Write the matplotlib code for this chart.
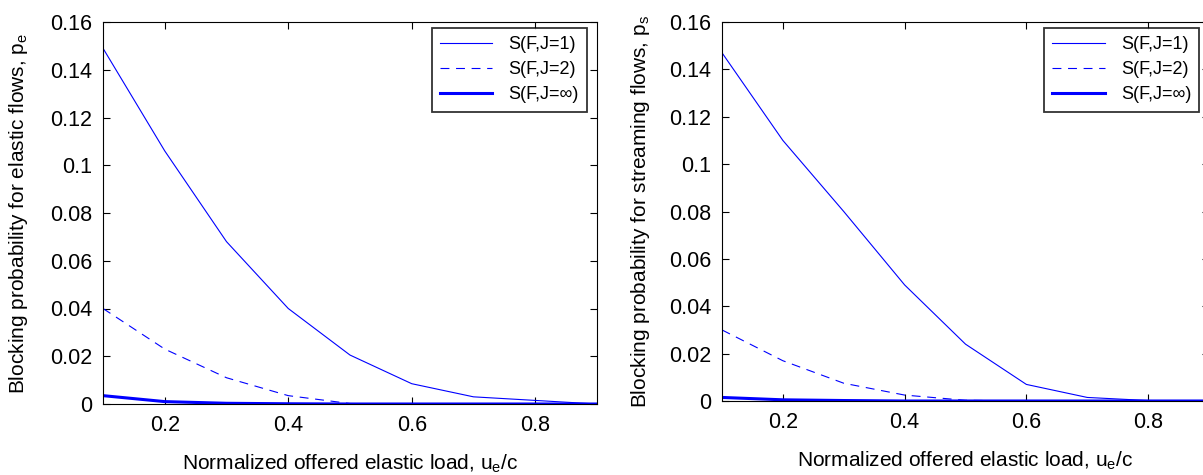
import matplotlib
matplotlib.use("Agg")
import matplotlib.pyplot as plt

plt.rcParams['font.family'] = ['Liberation Sans', 'DejaVu Sans']
plt.rcParams['mathtext.fontset'] = 'custom'
plt.rcParams['mathtext.rm'] = 'Liberation Sans'
plt.rcParams['mathtext.it'] = 'Liberation Sans'

x = [0.1, 0.2, 0.3, 0.4, 0.5, 0.6, 0.7, 0.8, 0.9]

# Left panel: elastic flows
el_j1 = [0.149, 0.106, 0.068, 0.040, 0.0205, 0.0085, 0.003, 0.0015, 0.0]
el_j2 = [0.040, 0.023, 0.011, 0.0035, 0.0002, 0.0, 0.0, 0.0, 0.0]
el_jinf = [0.0035, 0.001, 0.0003, 0.0001, 0.0, 0.0, 0.0, 0.0, 0.0]

# Right panel: streaming flows
st_j1 = [0.147, 0.110, 0.080, 0.049, 0.024, 0.007, 0.0015, 0.0002, 0.0]
st_j2 = [0.030, 0.017, 0.0075, 0.0025, 0.0003, 0.0, 0.0, 0.0, 0.0]
st_jinf = [0.0015, 0.0005, 0.0002, 0.0, 0.0, 0.0, 0.0, 0.0, 0.0]

labels = ['S(F,J=1)', 'S(F,J=2)', 'S(F,J=\u221e)']
xticks = [0.2, 0.4, 0.6, 0.8]
xticklabels = ['0.2', '0.4', '0.6', '0.8']
yticks = [0, 0.02, 0.04, 0.06, 0.08, 0.1, 0.12, 0.14, 0.16]
yticklabels = ['0', '0.02', '0.04', '0.06', '0.08', '0.1', '0.12', '0.14', '0.16']

W, H = 1203, 475
fig = plt.figure(figsize=(W / 100, H / 100), dpi=100)

def make_ax(rect, j1, j2, jinf, ylabel, ylabelpad):
    ax = fig.add_axes(rect)
    ax.plot(x, j1, color='#0000ff', lw=0.8, label=labels[0])
    ax.plot(x, j2, color='#0000ff', lw=0.8, ls=(0, (8, 6)), label=labels[1])
    ax.plot(x, jinf, color='#0000ff', lw=2.2, label=labels[2])
    ax.set_xlim(0.1, 0.9)
    ax.set_ylim(0, 0.16)
    ax.set_xticks(xticks)
    ax.set_xticklabels(xticklabels)
    ax.set_yticks(yticks)
    ax.set_yticklabels(yticklabels)
    ax.tick_params(direction='in', top=True, right=True, labelsize=15.5,
                   length=5, width=0.8, pad=8)
    for s in ax.spines.values():
        s.set_linewidth(0.8)
    ax.set_xlabel('Normalized offered elastic load, u$_\\mathregular{e}$/c',
                  fontsize=15, labelpad=12)
    ax.set_ylabel(ylabel, fontsize=15, labelpad=ylabelpad)
    leg = ax.legend(loc='upper right', fontsize=13, frameon=True, fancybox=False,
                    edgecolor='black', handlelength=2.9, borderpad=0.45,
                    labelspacing=0.45, handletextpad=0.9, borderaxespad=0,
                    bbox_to_anchor=(0.98, 0.984))
    leg.get_frame().set_linewidth(1.3)
    return ax

make_ax([103 / W, 1 - 404 / H, (597 - 103) / W, (404 - 22) / H],
        el_j1, el_j2, el_jinf,
        'Blocking probability for elastic flows, p$_\\mathregular{e}$', 14)
make_ax([722 / W, 1 - 401 / H, (1209 - 722) / W, (401 - 22) / H],
        st_j1, st_j2, st_jinf,
        'Blocking probability for streaming flows, p$_\\mathregular{s}$', 12)

fig.savefig('out.png', dpi=100)
